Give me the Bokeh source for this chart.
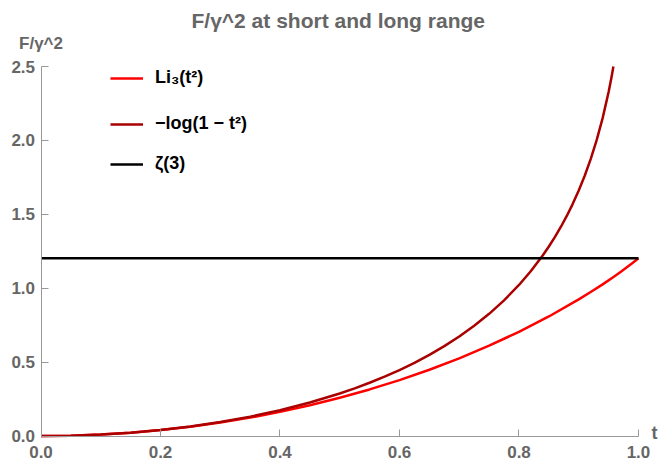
from bokeh.plotting import figure
from bokeh.models import Range1d, Label, Legend
from bokeh.embed import file_html
from bokeh.resources import INLINE

# ---- data ----
t_li = [0, 0.05, 0.1, 0.15, 0.2, 0.25, 0.3, 0.35, 0.4, 0.45, 0.5, 0.55, 0.6,
        0.65, 0.7, 0.75, 0.8, 0.85, 0.9, 0.92, 0.94, 0.96, 0.97, 0.98, 0.99, 1.0]
li3 = [0, 0.0025, 0.0100, 0.0226, 0.0402, 0.0630, 0.0910, 0.1244, 0.1634,
       0.2080, 0.2585, 0.3151, 0.3783, 0.4482, 0.5256, 0.6109, 0.7049, 0.8088,
       0.9241, 0.9739, 1.0261, 1.0812, 1.1098, 1.1394, 1.1701, 1.2021]

t_log = [0, 0.05, 0.1, 0.15, 0.2, 0.25, 0.3, 0.35, 0.4, 0.45, 0.5, 0.525, 0.55,
         0.575, 0.6, 0.625, 0.65, 0.675, 0.7, 0.725, 0.75, 0.775, 0.8, 0.82,
         0.84, 0.85, 0.86, 0.87, 0.88, 0.89, 0.9, 0.91, 0.92, 0.93, 0.94, 0.95,
         0.955, 0.958]
neglog = [0, 0.0025, 0.0101, 0.0228, 0.0408, 0.0645, 0.0943, 0.1307, 0.1744,
          0.2263, 0.2877, 0.3224, 0.3603, 0.4014, 0.4463, 0.4953, 0.5490,
          0.6081, 0.6733, 0.7458, 0.8267, 0.9179, 1.0217, 1.1160, 1.2228,
          1.2819, 1.3455, 1.4143, 1.4890, 1.5707, 1.6607, 1.7608, 1.8734,
          2.0017, 2.1507, 2.3279, 2.4307, 2.5000]

t_zeta = [0, 1]
zeta3 = [1.2021, 1.2021]

labels = ["Li\u2083(t\u00b2)", "\u2212log(1 \u2212 t\u00b2)", "\u03b6(3)"]
x_ticks = [0.0, 0.2, 0.4, 0.6, 0.8, 1.0]
y_ticks = [0.0, 0.5, 1.0, 1.5, 2.0, 2.5]
x_bounds = (0, 1)
y_bounds = (0, 2.5)

FONT = "Liberation Sans"
GREY = "#666666"
AXIS = "#999999"

p = figure(width=658, height=462, output_backend="svg", toolbar_location=None,
           x_range=Range1d(-0.0678, 1.0335), y_range=Range1d(-0.1793, 2.7098),
           min_border_left=0, min_border_right=0, min_border_top=35,
           min_border_bottom=0)
p.outline_line_color = None
p.xgrid.visible = False
p.ygrid.visible = False
p.background_fill_color = "white"
p.border_fill_color = "white"

p.title.text = "F/\u03b3^2 at short and long range"
p.title.align = "left"
p.title.offset = 191
p.title.text_font = FONT
p.title.text_font_size = "21px"
p.title.text_font_style = "bold"
p.title.text_color = GREY
p.title.standoff = 8

r1 = p.line(t_li, li3, line_color="#ff0000", line_width=2.5, line_join="round")
r2 = p.line(t_log, neglog, line_color="#aa0000", line_width=2.5, line_join="round")
r3 = p.line(t_zeta, zeta3, line_color="#000000", line_width=2.5)

for ax, ticks, nminor, bnd in ((p.xaxis[0], x_ticks, 4, x_bounds),
                               (p.yaxis[0], y_ticks, 5, y_bounds)):
    ax.ticker = ticks
    ax.ticker.num_minor_ticks = nminor
    ax.fixed_location = 0
    ax.bounds = bnd
    ax.axis_line_color = AXIS
    ax.major_tick_line_color = AXIS
    ax.minor_tick_line_color = AXIS
    ax.major_tick_in = 7
    ax.major_tick_out = 0
    ax.minor_tick_in = 4
    ax.minor_tick_out = 0
    ax.major_label_text_font = FONT
    ax.major_label_text_font_size = "17px"
    ax.major_label_text_font_style = "bold"
    ax.major_label_text_color = GREY

p.xaxis.major_label_standoff = 10
p.yaxis.major_label_standoff = 6
p.xaxis.major_label_overrides = {v: f"{v:.1f}" for v in x_ticks}
p.yaxis.major_label_overrides = {v: f"{v:.1f}" for v in y_ticks}

p.add_layout(Label(x=0, y=2.5, y_offset=23, text="F/\u03b3^2", text_align="center",
                   text_baseline="middle", text_font=FONT, text_font_size="17px",
                   text_font_style="bold", text_color=GREY))
p.add_layout(Label(x=1, y=0, x_offset=13, y_offset=3, text="t", text_align="left",
                   text_baseline="middle", text_font=FONT, text_font_size="18px",
                   text_font_style="bold", text_color=GREY))

for lab, rend, ybot in zip(labels, (r1, r2, r3), (374, 328, 288)):
    lg = Legend(items=[(lab, [rend])], location=(110, ybot), padding=0, margin=0,
                glyph_width=33, glyph_height=20, label_height=20,
                label_standoff=12, border_line_color=None,
                background_fill_alpha=0,
                label_text_font=FONT, label_text_font_size="18px",
                label_text_font_style="bold", label_text_color="#000000")
    p.add_layout(lg)

open("out.html", "w").write(file_html(p, INLINE))
